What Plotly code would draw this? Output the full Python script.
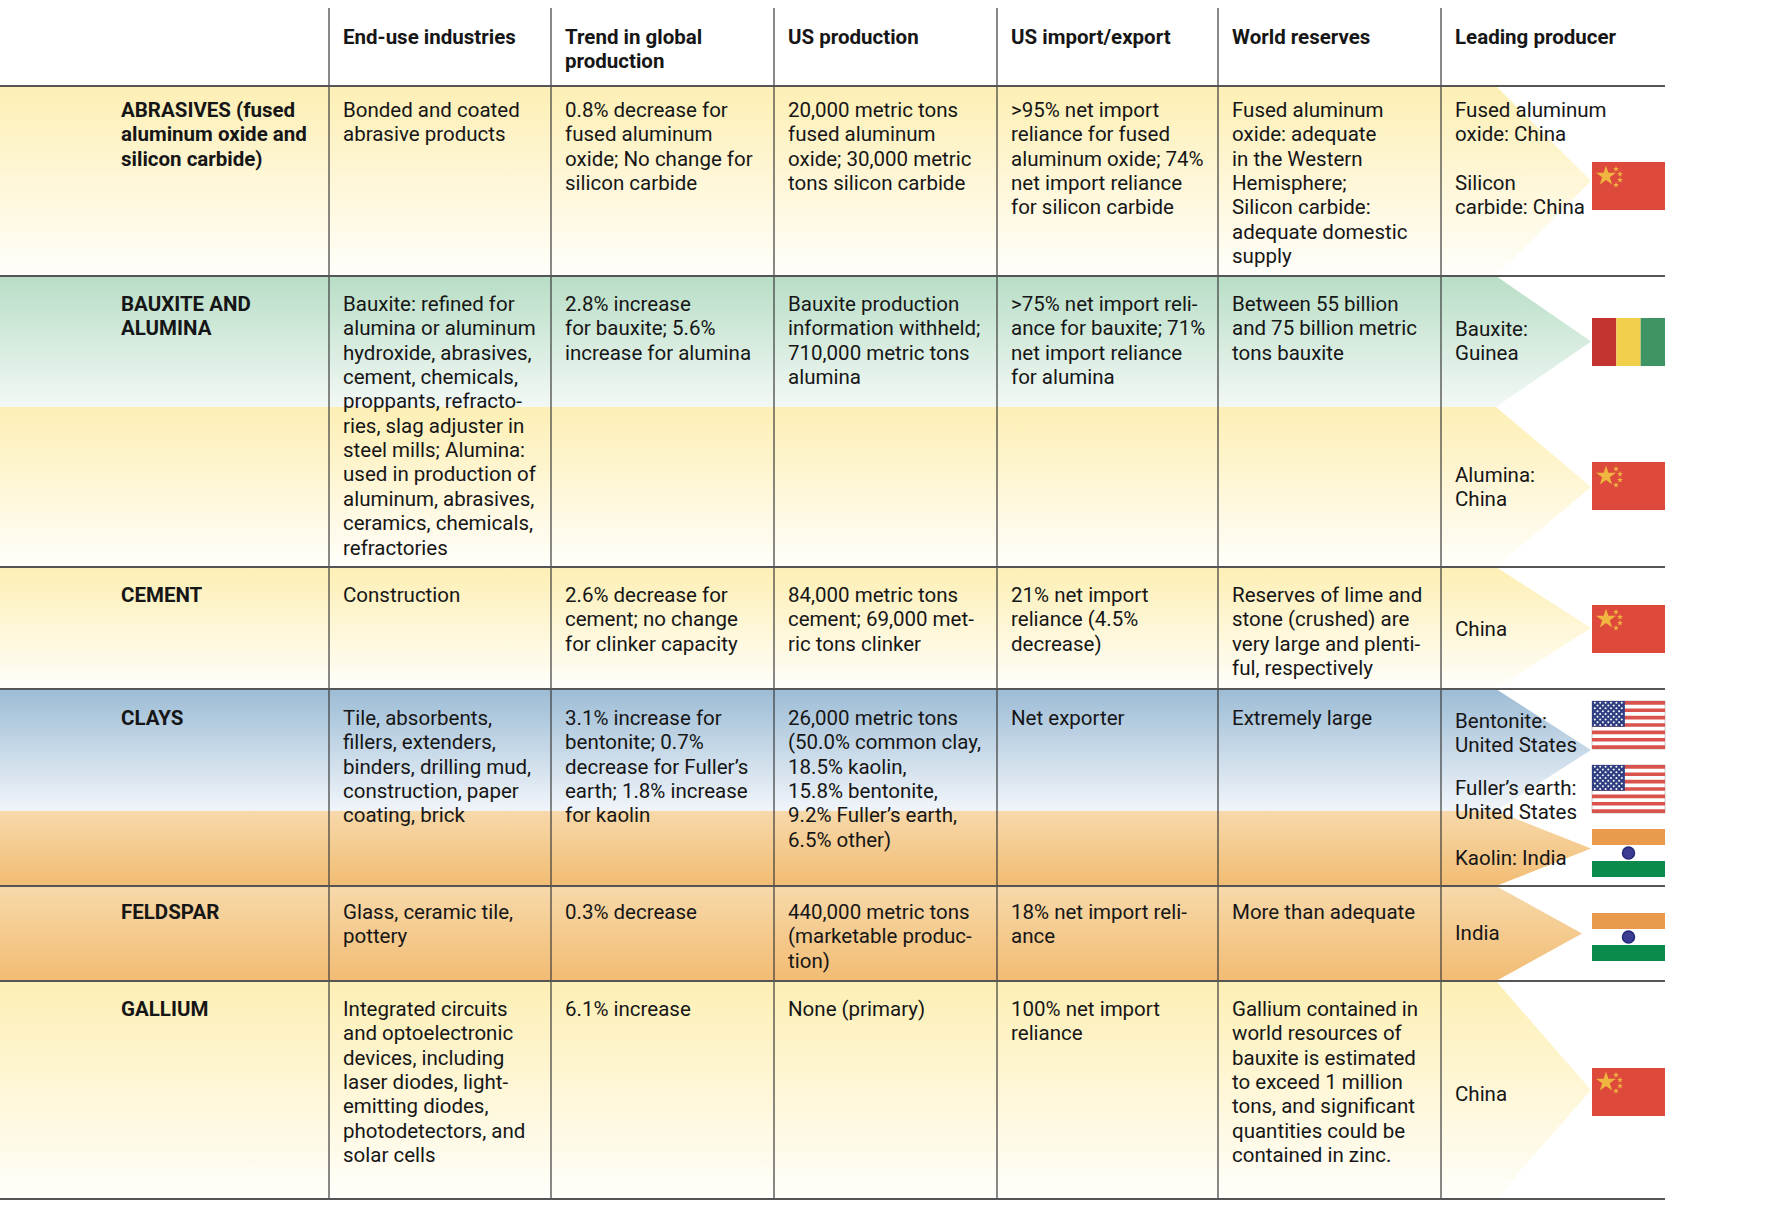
import plotly.graph_objects as go

# ---- table content -------------------------------------------------------
headers = ["End-use industries", "Trend in global\nproduction", "US production",
           "US import/export", "World reserves", "Leading producer"]

minerals = ["ABRASIVES (fused\naluminum oxide and\nsilicon carbide)",
            "BAUXITE AND\nALUMINA", "CEMENT", "CLAYS", "FELDSPAR", "GALLIUM"]

end_use = [
    "Bonded and coated\nabrasive products",
    "Bauxite: refined for\nalumina or aluminum\nhydroxide, abrasives,\ncement, chemicals,\n"
    "proppants, refracto-\nries, slag adjuster in\nsteel mills; Alumina:\nused in production of\n"
    "aluminum, abrasives,\nceramics, chemicals,\nrefractories",
    "Construction",
    "Tile, absorbents,\nfillers, extenders,\nbinders, drilling mud,\nconstruction, paper\ncoating, brick",
    "Glass, ceramic tile,\npottery",
    "Integrated circuits\nand optoelectronic\ndevices, including\nlaser diodes, light-\n"
    "emitting diodes,\nphotodetectors, and\nsolar cells",
]

trend = [
    "0.8% decrease for\nfused aluminum\noxide; No change for\nsilicon carbide",
    "2.8% increase\nfor bauxite; 5.6%\nincrease for alumina",
    "2.6% decrease for\ncement; no change\nfor clinker capacity",
    "3.1% increase for\nbentonite; 0.7%\ndecrease for Fuller’s\nearth; 1.8% increase\nfor kaolin",
    "0.3% decrease",
    "6.1% increase",
]

us_production = [
    "20,000 metric tons\nfused aluminum\noxide; 30,000 metric\ntons silicon carbide",
    "Bauxite production\ninformation withheld;\n710,000 metric tons\nalumina",
    "84,000 metric tons\ncement; 69,000 met-\nric tons clinker",
    "26,000 metric tons\n(50.0% common clay,\n18.5% kaolin,\n15.8% bentonite,\n9.2% Fuller’s earth,\n6.5% other)",
    "440,000 metric tons\n(marketable produc-\ntion)",
    "None (primary)",
]

us_trade = [
    ">95% net import\nreliance for fused\naluminum oxide; 74%\nnet import reliance\nfor silicon carbide",
    ">75% net import reli-\nance for bauxite; 71%\nnet import reliance\nfor alumina",
    "21% net import\nreliance (4.5%\ndecrease)",
    "Net exporter",
    "18% net import reli-\nance",
    "100% net import\nreliance",
]

world_reserves = [
    "Fused aluminum\noxide: adequate\nin the Western\nHemisphere;\nSilicon carbide:\nadequate domestic\nsupply",
    "Between 55 billion\nand 75 billion metric\ntons bauxite",
    "Reserves of lime and\nstone (crushed) are\nvery large and plenti-\nful, respectively",
    "Extremely large",
    "More than adequate",
    "Gallium contained in\nworld resources of\nbauxite is estimated\nto exceed 1 million\ntons, and significant\nquantities could be\ncontained in zinc.",
]

producers = [
    ["Fused aluminum\noxide: China", "Silicon\ncarbide: China"],
    ["Bauxite:\nGuinea", "Alumina:\nChina"],
    ["China"],
    ["Bentonite:\nUnited States", "Fuller’s earth:\nUnited States", "Kaolin: India"],
    ["India"],
    ["China"],
]

producer_flags = [
    ["China"],
    ["Guinea", "China"],
    ["China"],
    ["United States", "United States", "India"],
    ["India"],
    ["China"],
]

# ---- layout (pixels) -------------------------------------------------------
W, H = 1774, 1208
col_edges = [329, 551, 774, 997, 1218, 1441, 1665]
row_edges = [86, 276, 567, 689, 886, 981, 1199]
first_offset = [24, 28, 28, 29, 26, 28]
LINE = 24.35
TXT_PAD = 13
LABEL_X = 120

YELLOW = ("#fdefb4", "#fffefa")
GREEN = ("#b8dec6", "#f2f8f5")
BLUE = ("#9cbcd5", "#f1f5fa")
ORANGE = ("#f7d9aa", "#f2bc73")

# colour bands: (top, bottom, colours, chevron tip x)
bands = [
    (86, 276, YELLOW, 1591),
    (276, 407, GREEN, 1591),
    (407, 567, YELLOW, 1591),
    (567, 689, YELLOW, 1591),
    (689, 811, BLUE, 1591),
    (811, 886, ORANGE, 1591),
    (886, 981, ORANGE, 1582),
    (981, 1199, YELLOW, 1591),
]
CHEV_X = 1496

prod_text_y = [[110, 183], [329, 475], [629], [721, 788, 858], [933], [1094]]
flag_y = [[186], [342, 486], [629], [725, 789, 853], [937], [1092]]
FLAG_X, FLAG_W, FLAG_H = 1592, 73, 48

FONT = "Roboto, Arial, sans-serif"
FS = 20.5
INK = "#161616"

fig = go.Figure()

# gradient bands with chevrons pointing at the flags
for top, bot, (c0, c1), tip in bands:
    mid = (top + bot) / 2
    fig.add_trace(go.Scatter(
        x=[0, CHEV_X, tip, CHEV_X, 0, 0],
        y=[top, top, mid, bot, bot, top],
        mode="lines", line=dict(width=0), fill="toself",
        fillgradient=dict(type="vertical", start=top, stop=bot,
                          colorscale=[[0, c0], [1, c1]]),
        hoverinfo="skip", showlegend=False))

shapes = []
# vertical column rules
for x in col_edges[:-1]:
    shapes.append(dict(type="line", x0=x, x1=x, y0=8, y1=row_edges[-1],
                       line=dict(color="#3a3a3a", width=1.2)))
# horizontal rules
for y in row_edges:
    shapes.append(dict(type="line", x0=0, x1=col_edges[-1], y0=y, y1=y,
                       line=dict(color="#555555", width=2)))


def flag(country, x0, yc):
    y0 = yc - FLAG_H / 2
    y1 = yc + FLAG_H / 2
    x1 = x0 + FLAG_W
    out = []
    marks = []
    if country == "China":
        out.append(dict(type="rect", x0=x0, x1=x1, y0=y0, y1=y1,
                        fillcolor="#dd4a3c", line=dict(width=0)))
        marks.append((x0 + 14, y0 + 14, 15))
        for dx, dy in [(24, 7), (28, 12), (28, 18), (24, 23)]:
            marks.append((x0 + dx, y0 + dy, 4.5))
    elif country == "Guinea":
        w = FLAG_W / 3
        for i, c in enumerate(["#c13430", "#f3d04c", "#3f9466"]):
            out.append(dict(type="rect", x0=x0 + i * w, x1=x0 + (i + 1) * w,
                            y0=y0, y1=y1, fillcolor=c, line=dict(width=0)))
    elif country == "India":
        h = FLAG_H / 3
        for i, c in enumerate(["#ea9a4c", "#ffffff", "#0b8a4d"]):
            out.append(dict(type="rect", x0=x0, x1=x1, y0=y0 + i * h,
                            y1=y0 + (i + 1) * h, fillcolor=c, line=dict(width=0)))
        out.append(dict(type="circle", x0=x0 + FLAG_W / 2 - 6, x1=x0 + FLAG_W / 2 + 6,
                        y0=yc - 6, y1=yc + 6, fillcolor="#3c3c90",
                        line=dict(color="#23287a", width=1.5)))
    elif country == "United States":
        sh = FLAG_H / 13
        out.append(dict(type="rect", x0=x0, x1=x1, y0=y0, y1=y1,
                        fillcolor="#ffffff", line=dict(color="#c8c8c8", width=1)))
        for i in range(0, 13, 2):
            out.append(dict(type="rect", x0=x0, x1=x1, y0=y0 + i * sh,
                            y1=y0 + (i + 1) * sh, fillcolor="#d9534c",
                            line=dict(width=0)))
        cw, ch = FLAG_W * 0.45, sh * 7
        out.append(dict(type="rect", x0=x0, x1=x0 + cw, y0=y0, y1=y0 + ch,
                        fillcolor="#2f3f82", line=dict(width=0)))
    for s in out:
        s["layer"] = "below"
    return out, marks


star_x, star_y, star_s = [], [], []
dot_x, dot_y = [], []
for i, countries in enumerate(producer_flags):
    for country, yc in zip(countries, flag_y[i]):
        s, m = flag(country, FLAG_X, yc)
        shapes.extend(s)
        for mx, my, ms in m:
            star_x.append(mx)
            star_y.append(my)
            star_s.append(ms)
        if country == "United States":
            y0 = yc - FLAG_H / 2
            ch = FLAG_H / 13 * 7
            for r in range(9):
                n = 6 if r % 2 == 0 else 5
                off = 2.8 if r % 2 == 0 else 5.5
                for c in range(n):
                    dot_x.append(FLAG_X + off + c * 5.4)
                    dot_y.append(y0 + 1.8 + r * (ch - 3.6) / 8)

fig.add_trace(go.Scatter(x=star_x, y=star_y, mode="markers",
                         marker=dict(symbol="star", size=star_s, color="#f6e23e",
                                     line=dict(width=0)),
                         hoverinfo="skip", showlegend=False))
fig.add_trace(go.Scatter(x=dot_x, y=dot_y, mode="markers",
                         marker=dict(symbol="circle", size=2, color="#ffffff",
                                     line=dict(width=0)),
                         hoverinfo="skip", showlegend=False))

annotations = []


def put(text, x, y, bold=False):
    for k, line in enumerate(text.split("\n")):
        if not line:
            continue
        annotations.append(dict(
            x=x, y=y + k * LINE, text=f"<b>{line}</b>" if bold else line,
            xanchor="left", yanchor="middle", showarrow=False,
            font=dict(family=FONT, size=FS, color=INK),
            xref="x", yref="y", borderpad=0))


# header
for j, h in enumerate(headers):
    put(h, col_edges[j] + TXT_PAD, 37, bold=True)

# body
columns = [end_use, trend, us_production, us_trade, world_reserves]
for i, name in enumerate(minerals):
    y_first = row_edges[i] + first_offset[i]
    put(name, LABEL_X, y_first, bold=True)
    for j, col in enumerate(columns):
        put(col[i], col_edges[j] + TXT_PAD, y_first)
    for txt, y in zip(producers[i], prod_text_y[i]):
        put(txt, col_edges[5] + TXT_PAD, y)

fig.update_layout(
    width=W, height=H,
    margin=dict(l=0, r=0, t=0, b=0),
    paper_bgcolor="white", plot_bgcolor="white",
    xaxis=dict(range=[0, W], visible=False, fixedrange=True),
    yaxis=dict(range=[H, 0], visible=False, fixedrange=True),
    shapes=shapes, annotations=annotations,
)

fig.write_html("out.html", config={"displayModeBar": False},
               post_script="document.body.style.margin='0';")
